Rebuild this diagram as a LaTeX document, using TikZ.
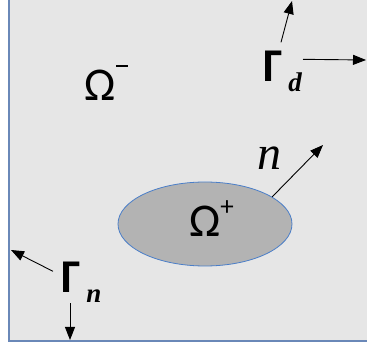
\documentclass[tikz,border=0pt]{standalone}
\usepackage{fontspec}
\setmainfont{Carlito}
\newfontfamily\serifit{Liberation Serif}[UprightFont=*-Italic, BoldFont=*-Bold Italic]
\usetikzlibrary{arrows.meta, shapes.geometric}

\definecolor{bgfill}{HTML}{E6E6E6}
\definecolor{blobfill}{HTML}{B3B3B3}
\definecolor{blobedge}{HTML}{4A7EC8}
\definecolor{frameedge}{HTML}{6A88B8}

\newcommand{\supsize}{\fontsize{27}{28}\selectfont}
\newcommand{\subsize}{\fontsize{27}{30}\selectfont}

\begin{document}
\begin{tikzpicture}[
    x=1pt, y=-1pt,
    >={Triangle[length=13pt, width=10pt]},
    bigsym/.style={font=\fontsize{47}{50}\selectfont, inner sep=0pt, anchor=base west},
    normal/.style={font=\fontsize{48}{52}\selectfont\serifit, inner sep=0pt, anchor=base west},
    connector/.style={->, line width=0.9pt, black}
]

    \useasboundingbox (0,0) rectangle (367,347);

    % Domain
    \fill[bgfill] (9,0) rectangle (367,341);
    \draw[frameedge, line width=1.8pt] (9,0) |- (367,341);

    % Inclusion
    \node[ellipse, draw=blobedge, fill=blobfill, line width=0.8pt, minimum width=174, minimum height=84, inner sep=0pt] (blob) at (205,224) {};

    % Labels
    \node[bigsym] (omminus) at (84,101) {Ω\kern1pt\raisebox{34pt}{\rule{12pt}{2pt}}};
    \node[bigsym] (omplus) at (189,237) {Ω\raisebox{21pt}{\supsize +}};
    \node[normal] (normlbl) at (257,170) {n};
    \node[bigsym] (gammad) at (263,82) {\bfseries Γ\kern6pt\raisebox{-10pt}{\subsize\serifit d}};
    \node[bigsym] (gamman) at (61,293) {\bfseries Γ\kern6pt\raisebox{-10pt}{\subsize\serifit n}};

    % Free ends
    \coordinate (gdtop) at (292,1);
    \coordinate (gdright) at (366,60);
    \coordinate (ntip) at (323,145);
    \coordinate (gnleft) at (11,250);
    \coordinate (gnbottom) at (70,340);

    % Arrows
    \draw[connector] ([shift={(18,-9)}]gammad.north west) -- (gdtop);
    \draw[connector] ([shift={(40,8)}]gammad.north west) -- (gdright);
    \draw[connector] (blob.22) -- (ntip);
    \draw[connector] ([shift={(-8,9)}]gamman.north west) -- (gnleft);
    \draw[connector] ([xshift=9pt]gamman.south west) -- (gnbottom);

\end{tikzpicture}
\end{document}
